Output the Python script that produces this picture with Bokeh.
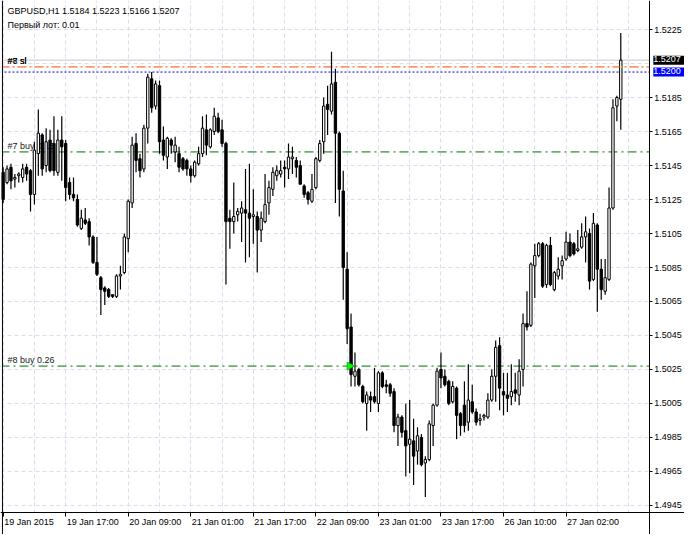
import math
from bokeh.plotting import figure
from bokeh.models import (Range1d, LinearAxis, FixedTicker, PrintfTickFormatter,
                          Span, Label, ColumnDataSource, Grid, BoxAnnotation)
from bokeh.embed import file_html
from bokeh.resources import INLINE

# ---------------- data ----------------
symbol = "GBPUSD,H1"
first_lot_text = "Первый лот: 0.01"

opens = [1.5141, 1.5135, 1.5144, 1.5137, 1.5139, 1.5138, 1.5144, 1.5142, 1.5128, 1.5152,
         1.5163, 1.5145, 1.5160, 1.5158, 1.5141, 1.5160, 1.5158, 1.5135, 1.5128, 1.5125,
         1.5108, 1.5113, 1.5112, 1.5103, 1.5088, 1.5079, 1.5073, 1.5072, 1.5069, 1.5068,
         1.5080, 1.5082, 1.5102, 1.5123, 1.5158, 1.5149, 1.5143, 1.5167, 1.5196, 1.5180,
         1.5192, 1.5160, 1.5150, 1.5160, 1.5153, 1.5152, 1.5149, 1.5148, 1.5143, 1.5139,
         1.5146, 1.5152, 1.5166, 1.5156, 1.5165, 1.5173, 1.5166, 1.5158, 1.5114, 1.5112,
         1.5116, 1.5117, 1.5119, 1.5117, 1.5115, 1.5115, 1.5107, 1.5112, 1.5123, 1.5131,
         1.5139, 1.5140, 1.5144, 1.5143, 1.5149, 1.5148, 1.5145, 1.5133, 1.5129, 1.5124,
         1.5132, 1.5148, 1.5159, 1.5181, 1.5177, 1.5194, 1.5164, 1.5130, 1.5084, 1.5050,
         1.5021, 1.5025, 1.5015, 1.5005, 1.5009, 1.5009, 1.5005, 1.5023, 1.5016, 1.5016,
         1.5012, 1.4992, 1.4997, 1.4989, 1.4981, 1.4983, 1.4977, 1.4985, 1.4970, 1.4972,
         1.4992, 1.5004, 1.5025, 1.5021, 1.5018, 1.5006, 1.5014, 1.4999, 1.5004, 1.4994,
         1.5006, 1.5000, 1.4995, 1.4997, 1.4997, 1.5007, 1.5021, 1.5039, 1.5012, 1.5010,
         1.5009, 1.5013, 1.5010, 1.5025, 1.5052, 1.5051, 1.5086, 1.5092, 1.5099, 1.5075,
         1.5098, 1.5072, 1.5080, 1.5086, 1.5090, 1.5100, 1.5099, 1.5095, 1.5097, 1.5103,
         1.5105, 1.5078, 1.5110, 1.5084, 1.5071, 1.5078, 1.5120, 1.5180, 1.5184]
highs = [1.5144, 1.5145, 1.5146, 1.5140, 1.5141, 1.5146, 1.5146, 1.5143, 1.5159, 1.5178,
         1.5164, 1.5167, 1.5166, 1.5174, 1.5166, 1.5174, 1.5160, 1.5138, 1.5138, 1.5128,
         1.5119, 1.5120, 1.5114, 1.5104, 1.5103, 1.5080, 1.5074, 1.5073, 1.5069, 1.5081,
         1.5086, 1.5105, 1.5125, 1.5162, 1.5164, 1.5152, 1.5169, 1.5199, 1.5200, 1.5195,
         1.5195, 1.5168, 1.5162, 1.5161, 1.5162, 1.5156, 1.5150, 1.5149, 1.5145, 1.5148,
         1.5156, 1.5174, 1.5175, 1.5167, 1.5179, 1.5176, 1.5172, 1.5159, 1.5119, 1.5135,
         1.5120, 1.5124, 1.5143, 1.5146, 1.5131, 1.5118, 1.5118, 1.5140, 1.5136, 1.5144,
         1.5145, 1.5148, 1.5148, 1.5158, 1.5156, 1.5150, 1.5148, 1.5134, 1.5130, 1.5140,
         1.5150, 1.5160, 1.5185, 1.5192, 1.5212, 1.5202, 1.5165, 1.5142, 1.5094, 1.5058,
         1.5035, 1.5026, 1.5016, 1.5012, 1.5012, 1.5026, 1.5024, 1.5024, 1.5019, 1.5017,
         1.5014, 1.4999, 1.4998, 1.5005, 1.5007, 1.4996, 1.4991, 1.4987, 1.4974, 1.4995,
         1.5005, 1.5026, 1.5035, 1.5025, 1.5019, 1.5018, 1.5015, 1.5000, 1.5018, 1.5028,
         1.5016, 1.5002, 1.4999, 1.4999, 1.5011, 1.5025, 1.5042, 1.5044, 1.5023, 1.5023,
         1.5028, 1.5023, 1.5031, 1.5058, 1.5071, 1.5088, 1.5099, 1.5100, 1.5100, 1.5099,
         1.5103, 1.5083, 1.5091, 1.5092, 1.5106, 1.5105, 1.5100, 1.5107, 1.5111, 1.5115,
         1.5108, 1.5117, 1.5111, 1.5090, 1.5090, 1.5132, 1.5184, 1.5186, 1.5223]
lows = [1.5123, 1.5134, 1.5131, 1.5132, 1.5135, 1.5135, 1.5136, 1.5118, 1.5122, 1.5139,
        1.5139, 1.5141, 1.5141, 1.5139, 1.5139, 1.5136, 1.5124, 1.5125, 1.5124, 1.5109,
        1.5107, 1.5110, 1.5098, 1.5087, 1.5080, 1.5057, 1.5063, 1.5067, 1.5067, 1.5067,
        1.5072, 1.5081, 1.5094, 1.5120, 1.5141, 1.5138, 1.5141, 1.5158, 1.5176, 1.5178,
        1.5152, 1.5148, 1.5143, 1.5152, 1.5147, 1.5141, 1.5142, 1.5139, 1.5135, 1.5138,
        1.5145, 1.5150, 1.5151, 1.5155, 1.5163, 1.5164, 1.5156, 1.5075, 1.5096, 1.5105,
        1.5112, 1.5100, 1.5088, 1.5091, 1.5099, 1.5082, 1.5100, 1.5111, 1.5116, 1.5127,
        1.5136, 1.5138, 1.5132, 1.5137, 1.5140, 1.5138, 1.5134, 1.5126, 1.5122, 1.5123,
        1.5131, 1.5147, 1.5152, 1.5163, 1.5175, 1.5123, 1.5115, 1.5066, 1.5040, 1.5015,
        1.5015, 1.5015, 1.5005, 1.4989, 1.5000, 1.5005, 1.5000, 1.5014, 1.5011, 1.5009,
        1.4988, 1.4980, 1.4985, 1.4962, 1.4964, 1.4957, 1.4969, 1.4968, 1.4950, 1.4971,
        1.4980, 1.5003, 1.5014, 1.5015, 1.5004, 1.5005, 1.4984, 1.4986, 1.4988, 1.4989,
        1.4999, 1.4992, 1.4992, 1.4995, 1.4996, 1.5006, 1.5006, 1.5001, 1.4998, 1.5000,
        1.5004, 1.5006, 1.5004, 1.5015, 1.5048, 1.5050, 1.5067, 1.5091, 1.5073, 1.5073,
        1.5074, 1.5071, 1.5078, 1.5078, 1.5089, 1.5091, 1.5092, 1.5094, 1.5096, 1.5088,
        1.5072, 1.5077, 1.5059, 1.5066, 1.5069, 1.5077, 1.5119, 1.5171, 1.5166]
closes = [1.5125, 1.5143, 1.5136, 1.5138, 1.5140, 1.5143, 1.5140, 1.5128, 1.5154, 1.5164,
          1.5143, 1.5159, 1.5142, 1.5142, 1.5160, 1.5156, 1.5132, 1.5128, 1.5126, 1.5110,
          1.5114, 1.5111, 1.5103, 1.5088, 1.5081, 1.5072, 1.5071, 1.5068, 1.5068, 1.5080,
          1.5081, 1.5103, 1.5124, 1.5157, 1.5148, 1.5142, 1.5167, 1.5197, 1.5179, 1.5193,
          1.5159, 1.5151, 1.5161, 1.5157, 1.5157, 1.5144, 1.5143, 1.5143, 1.5139, 1.5147,
          1.5152, 1.5167, 1.5157, 1.5166, 1.5174, 1.5165, 1.5158, 1.5112, 1.5112, 1.5115,
          1.5118, 1.5120, 1.5117, 1.5114, 1.5116, 1.5107, 1.5114, 1.5122, 1.5132, 1.5141,
          1.5142, 1.5142, 1.5143, 1.5150, 1.5150, 1.5144, 1.5134, 1.5128, 1.5125, 1.5131,
          1.5149, 1.5158, 1.5180, 1.5178, 1.5193, 1.5164, 1.5131, 1.5085, 1.5049, 1.5022,
          1.5024, 1.5016, 1.5006, 1.5010, 1.5007, 1.5006, 1.5023, 1.5015, 1.5015, 1.5011,
          1.4992, 1.4997, 1.4988, 1.4980, 1.4984, 1.4974, 1.4986, 1.4969, 1.4972, 1.4993,
          1.5004, 1.5024, 1.5020, 1.5016, 1.5005, 1.5015, 1.4998, 1.4992, 1.4992, 1.5007,
          1.5000, 1.4994, 1.4996, 1.4998, 1.5007, 1.5021, 1.5038, 1.5014, 1.5010, 1.5008,
          1.5012, 1.5011, 1.5024, 1.5052, 1.5050, 1.5087, 1.5092, 1.5099, 1.5074, 1.5098,
          1.5075, 1.5082, 1.5084, 1.5089, 1.5100, 1.5092, 1.5093, 1.5096, 1.5103, 1.5106,
          1.5077, 1.5111, 1.5084, 1.5072, 1.5079, 1.5120, 1.5179, 1.5185, 1.5207]

x_tick_labels = ["19 Jan 2015", "19 Jan 17:00", "20 Jan 09:00", "21 Jan 01:00", "21 Jan 17:00",
                 "22 Jan 09:00", "23 Jan 01:00", "23 Jan 17:00", "26 Jan 10:00", "27 Jan 02:00"]
bars_per_label = 16
bars_per_grid = 8
price_ticks = [1.4945, 1.4965, 1.4985, 1.5005, 1.5025, 1.5045, 1.5065, 1.5085,
               1.5105, 1.5125, 1.5145, 1.5165, 1.5185, 1.5205, 1.5225]

sl_level = 1.5203          # "#7 sl" / "#8 sl"
avg_level = 1.5200         # blue level
buy7_level = 1.5153
buy8_level = 1.5027
buy7_text = "#7 buy 0.16"
buy8_text = "#8 buy 0.26"
sl_texts = ["#7 sl", "#8 sl"]
entry_bar = 89

# ---------------- layout constants ----------------
n = len(opens)
bid = closes[-1]
# visible window (whole canvas is the frame); axes sit at fixed positions inside it
x_lo, x_hi = -0.675, 174.3
y_lo, y_hi = 1.49279, 1.52421
chart_left = -0.175        # left border of the chart area (bar units)
axis_x = 165.3             # price scale position (bar units)
axis_y = 1.49410           # time scale position (price units)

FONT = "Liberation Sans"
FS = "9px"
grid_col = "#DCDCF0"

p = figure(width=684, height=534, output_backend="svg", toolbar_location=None,
           x_range=Range1d(x_lo, x_hi), y_range=Range1d(y_lo, y_hi),
           x_axis_type=None, y_axis_type=None, min_border=0)
p.outline_line_color = None
p.background_fill_color = "white"
p.border_fill_color = "white"

# grids
p.add_layout(Grid(dimension=0, ticker=FixedTicker(ticks=list(range(0, n + 8, bars_per_grid))),
                  grid_line_color=grid_col, grid_line_dash="4 3", grid_line_width=1))
p.add_layout(Grid(dimension=1, ticker=FixedTicker(ticks=price_ticks),
                  grid_line_color=grid_col, grid_line_dash="4 3", grid_line_width=1))

# horizontal levels (under the candles)
p.add_layout(Span(location=bid, dimension="width", line_color="#C8C8C8", line_width=1, level="underlay"))
p.add_layout(Span(location=sl_level, dimension="width", line_color="#FF4500", line_width=1,
                  line_dash="9 3 2 3", level="underlay"))
p.add_layout(Span(location=avg_level, dimension="width", line_color="#0000CD", line_width=1,
                  line_dash="2 2", level="underlay"))
p.add_layout(Span(location=buy7_level, dimension="width", line_color="#007000", line_width=1,
                  line_dash="9 4 2 4", level="underlay"))
p.add_layout(Span(location=buy8_level, dimension="width", line_color="#007000", line_width=1,
                  line_dash="9 4 2 4", level="underlay"))

# white masks over the scale areas
p.add_layout(BoxAnnotation(left=axis_x, fill_color="white", fill_alpha=1, line_color=None, level="underlay"))
p.add_layout(BoxAnnotation(top=axis_y, fill_color="white", fill_alpha=1, line_color=None, level="underlay"))
p.add_layout(BoxAnnotation(right=chart_left, fill_color="white", fill_alpha=1, line_color=None, level="underlay"))

# order texts (under the candles)
for t in sl_texts:
    p.add_layout(Label(x=7, y=sl_level, x_units="screen", text=t, text_font=FONT, text_font_size=FS,
                       text_color="black", text_baseline="bottom", y_offset=1, level="underlay"))
p.add_layout(Label(x=7, y=buy7_level, x_units="screen", text=buy7_text, text_font=FONT, text_font_size=FS,
                   text_color="#202020", text_baseline="bottom", y_offset=1, level="underlay"))
p.add_layout(Label(x=7, y=buy8_level, x_units="screen", text=buy8_text, text_font=FONT, text_font_size=FS,
                   text_color="#202020", text_baseline="bottom", y_offset=1, level="underlay"))

# axes at fixed positions
xaxis = LinearAxis(ticker=FixedTicker(ticks=[bars_per_label * k for k in range(len(x_tick_labels))]),
                   fixed_location=axis_y, major_label_text_color=None,
                   major_tick_in=0, major_tick_out=4, minor_tick_line_color=None,
                   axis_line_color="black", major_tick_line_color="black")
p.add_layout(xaxis, "below")

shown_ticks = [t for t in price_ticks if abs(t - bid) > 0.0005 and abs(t - avg_level) > 0.0005]
yaxis = LinearAxis(ticker=FixedTicker(ticks=shown_ticks), fixed_location=axis_x,
                   formatter=PrintfTickFormatter(format="%.4f"),
                   major_tick_in=0, major_tick_out=3, minor_tick_line_color=None,
                   axis_line_color="black", major_tick_line_color="black",
                   major_label_standoff=2, major_label_text_font=FONT,
                   major_label_text_font_size=FS, major_label_text_color="black")
p.add_layout(yaxis, "right")

# left border of the chart
p.add_layout(Span(location=chart_left, dimension="height", line_color="black", line_width=1))

# candles
xs = list(range(n))
src = ColumnDataSource(dict(
    x=xs, o=opens, h=highs, l=lows, c=closes,
    top=[max(o, c) for o, c in zip(opens, closes)],
    bottom=[min(o, c) for o, c in zip(opens, closes)],
    fill=["white" if c >= o else "black" for o, c in zip(opens, closes)],
))
p.segment(x0="x", y0="h", x1="x", y1="l", source=src, line_color="black", line_width=1.2)
p.vbar(x="x", top="top", bottom="bottom", width=0.6, fill_color="fill", line_color="black",
       line_width=1, source=src)

# SL line seen through the last candle's body
p.segment(x0=[n - 1 - 0.3], x1=[n - 1 + 0.3], y0=[sl_level], y1=[sl_level], line_color="#FFFF00", line_width=1)

# buy arrow
p.scatter(x=[entry_bar - 0.4], y=[buy8_level], marker="triangle", angle=-math.pi / 2, size=8,
          fill_color="#00FF00", line_color="#00CC00")

# header texts
p.add_layout(Label(x=7, y=y_hi, x_units="screen", y_offset=-5,
                   text=f"{symbol}  {opens[-1]:.4f} {highs[-1]:.4f} {lows[-1]:.4f} {closes[-1]:.4f}",
                   text_font=FONT, text_font_size=FS, text_color="black", text_baseline="top"))
p.add_layout(Label(x=7, y=y_hi, x_units="screen", y_offset=-19, text=first_lot_text,
                   text_font=FONT, text_font_size=FS, text_color="black", text_baseline="top"))

# time labels, left aligned at their ticks
for k, t in enumerate(x_tick_labels):
    p.add_layout(Label(x=bars_per_label * k, y=axis_y, y_offset=-5, text=t, text_align="left",
                       text_baseline="top", x_offset=1, text_font=FONT, text_font_size=FS,
                       text_color="black"))

# price boxes on the price scale
p.add_layout(Label(x=axis_x, y=bid, text=f"{bid:.4f}", x_offset=4, text_baseline="middle",
                   text_font=FONT, text_font_size=FS, text_color="white",
                   background_fill_color="black", padding=(0, 6, 0, 3)))
p.add_layout(Label(x=axis_x, y=avg_level, text=f"{avg_level:.4f}", x_offset=4, text_baseline="middle",
                   text_font=FONT, text_font_size=FS, text_color="white",
                   background_fill_color="#0000FF", padding=(0, 6, 0, 3)))

open("out.html", "w").write(file_html(p, INLINE))
